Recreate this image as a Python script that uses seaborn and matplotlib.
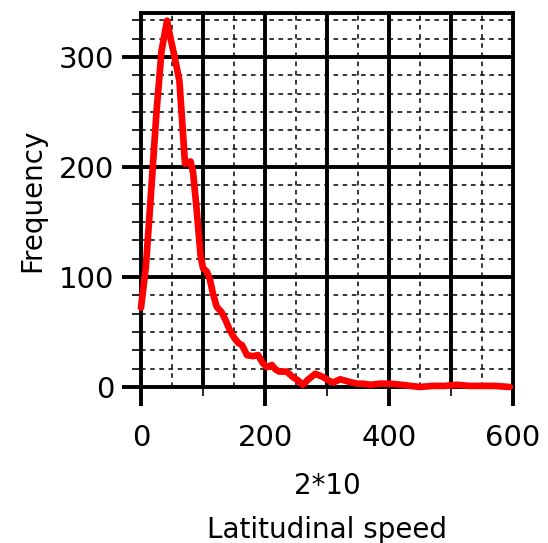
import matplotlib
matplotlib.use("Agg")
import matplotlib.pyplot as plt
import numpy as np
import pandas as pd
import seaborn as sns
from matplotlib.ticker import FixedLocator, MultipleLocator

# Histogram of latitudinal speed (units of 2*10), frequency per bin
speed = [0, 8, 16, 25, 33, 42, 48, 55, 62, 66, 71, 80, 84, 90, 96, 100,
         106, 111, 116, 122, 130, 137, 143, 150, 157, 163, 171, 180, 189,
         196, 203, 211, 217, 223, 235, 245, 253, 261, 270, 281, 294, 302,
         310, 321, 334, 348, 358, 370, 385, 402, 420, 435, 450, 470, 490,
         510, 530, 550, 570, 595]
frequency = [72, 110, 175, 250, 305, 333, 316, 298, 278, 245, 203, 205, 195,
             160, 120, 108, 105, 98, 85, 73, 68, 60, 52, 45, 40, 38, 29, 28,
             29, 22, 18, 20, 16, 14, 14, 9, 6, 2, 7, 12, 9, 6, 4, 7, 5, 3, 3,
             2, 3, 3, 2, 1, 0, 1, 1, 2, 1, 1, 1, 0]

x_ticks = [0, 200, 400, 600]
x_minor = [100, 300, 500]
y_ticks = [0, 100, 200, 300]

sns.set_theme(style="white")
plt.rcParams["font.family"] = ["DejaVu Sans"]

fig = plt.figure(figsize=(5.48, 5.43), dpi=100)
ax = fig.add_axes([141 / 548, 1 - 387 / 543, 372 / 548, 374 / 543])

df = pd.DataFrame({"speed": speed, "frequency": frequency})
sns.lineplot(data=df, x="speed", y="frequency", color="#ff0000",
             linewidth=4.8, ax=ax, zorder=5, clip_on=False)

ax.set_xlim(0, 600)
ax.set_ylim(0, 340)

# solid grid every 100, dashed grid in between
for v in range(100, 600, 100):
    ax.axvline(v, color="black", lw=2.8, zorder=1)
for v in range(50, 600, 100):
    ax.axvline(v, color="black", lw=1.1, ls=(0, (3, 3)), zorder=1)
for v in np.arange(1, 21) * 100 / 6:
    if v >= 340:
        break
    if abs(v / 100 - round(v / 100)) < 1e-6:
        ax.axhline(v, color="black", lw=2.8, zorder=1)
    else:
        ax.axhline(v, color="black", lw=1.1, ls=(0, (3, 3)), zorder=1)

ax.set_xticks(x_ticks)
ax.xaxis.set_minor_locator(FixedLocator(x_minor))
ax.set_yticks(y_ticks)
ax.yaxis.set_minor_locator(MultipleLocator(100 / 6))

ax.tick_params(axis="both", which="major", direction="out", length=14,
               width=2.8, labelsize=21, colors="black", bottom=True, left=True)
ax.tick_params(axis="both", which="minor", direction="out", length=6.5,
               width=1.2, colors="black", bottom=True, left=True)
ax.tick_params(axis="x", which="major", pad=13)
ax.tick_params(axis="y", which="major", pad=5)

for s in ax.spines.values():
    s.set_visible(True)
    s.set_color("black")
    s.set_linewidth(2.8)
    s.set_zorder(4)

ax.set_xlabel("2*10\nLatitudinal speed", fontsize=20, linespacing=1.75,
              labelpad=14, color="black")
ax.set_ylabel("Frequency", fontsize=20, color="black")
ax.yaxis.set_label_coords(-0.255, 0.5)

fig.savefig("out.png", dpi=100)
